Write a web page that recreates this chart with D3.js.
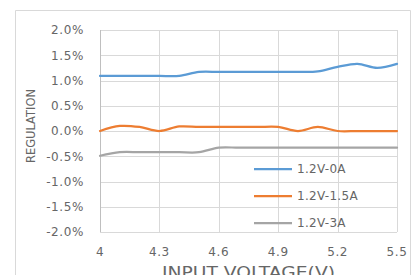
<!DOCTYPE html>
<html>
<head>
<meta charset="utf-8">
<script src="https://cdn.jsdelivr.net/npm/d3@7"></script>
<style>
html,body{margin:0;padding:0;background:#fff;overflow:hidden;}
svg{display:block;}
text{font-family:"DejaVu Sans",sans-serif;fill:#666;}
</style>
</head>
<body>
<svg id="chart" width="411" height="275"></svg>
<script>
// ---- data ----
const voltages = [4.0,4.1,4.2,4.3,4.4,4.5,4.6,4.7,4.8,4.9,5.0,5.1,5.2,5.3,5.4,5.5];
const series0A  = [1.09,1.09,1.09,1.09,1.09,1.17,1.17,1.17,1.17,1.17,1.17,1.18,1.27,1.33,1.25,1.33];
const series15A = [0.00,0.10,0.08,0.00,0.09,0.08,0.08,0.08,0.08,0.08,0.00,0.08,0.00,0.00,0.00,0.00];
const series3A  = [-0.49,-0.42,-0.42,-0.42,-0.42,-0.42,-0.33,-0.33,-0.33,-0.33,-0.33,-0.33,-0.33,-0.33,-0.33,-0.33];
const seriesNames = ["1.2V-0A","1.2V-1.5A","1.2V-3A"];
const seriesColors = ["#5B9BD5","#ED7D31","#A5A5A5"];
const xTicks = [4,4.3,4.6,4.9,5.2,5.5];
const xTickLabels = ["4","4.3","4.6","4.9","5.2","5.5"];
const yTicks = [0.02,0.015,0.01,0.005,0,-0.005,-0.01,-0.015,-0.02];
const xTitle = "INPUT VOLTAGE(V)";
const yTitle = "REGULATION";

const svg = d3.select("#chart");
const L = 100, R = 397, T = 30, B = 232;
const x = d3.scaleLinear().domain([4,5.5]).range([L,R]);
const y = d3.scaleLinear().domain([-0.02,0.02]).range([B,T]);

// outer frame
svg.append("path").attr("d","M15.5,275 V10.5 H410.5 V275")
  .attr("fill","none").attr("stroke","#d9d9d9").attr("stroke-width",1);

// gridlines
const g = svg.append("g");
g.selectAll("line.h").data(yTicks).enter().append("line")
  .attr("x1",L).attr("x2",R)
  .attr("y1",d=>Math.round(y(d))+0.5).attr("y2",d=>Math.round(y(d))+0.5)
  .attr("stroke","#d9d9d9").attr("stroke-width",1);
g.selectAll("line.v").data(xTicks).enter().append("line")
  .attr("x1",d=>Math.round(x(d))+0.5).attr("x2",d=>Math.round(x(d))+0.5)
  .attr("y1",T).attr("y2",B)
  .attr("stroke",(d,i)=>i===0?"#bfbfbf":"#d9d9d9").attr("stroke-width",1);

// y axis labels
const fmt = d3.format(".1%");
svg.append("g").selectAll("text").data(yTicks).enter().append("text")
  .attr("x",84).attr("y",d=>y(d)+4.3)
  .attr("text-anchor","end")
  .style("font-size","12px").style("letter-spacing","0.6px")
  .text(d=>fmt(d).replace("−","-"));

// x axis labels
svg.append("g").selectAll("text").data(xTicks).enter().append("text")
  .attr("x",d=>x(d)).attr("y",256)
  .attr("text-anchor","middle")
  .style("font-size","12px").style("letter-spacing","0.6px")
  .text((d,i)=>xTickLabels[i]);

// axis titles
svg.append("text").attr("x",248.5).attr("y",278)
  .attr("text-anchor","middle").style("font-size","15px")
  .attr("textLength",173).attr("lengthAdjust","spacingAndGlyphs")
  .text(xTitle);
svg.append("text").attr("transform","translate(35,126) rotate(-90)")
  .attr("text-anchor","middle").style("font-size","12px")
  .attr("textLength",74).attr("lengthAdjust","spacingAndGlyphs")
  .text(yTitle);

// lines
const allSeries = [series0A, series15A, series3A];
const line = d3.line().x((d,i)=>x(voltages[i])).y(d=>y(d/100)).curve(d3.curveCatmullRom);
svg.append("g").selectAll("path").data(allSeries).enter().append("path")
  .attr("d",d=>line(d))
  .attr("fill","none")
  .attr("stroke",(d,i)=>seriesColors[i])
  .attr("stroke-width",2.25)
  .attr("stroke-linecap","round");

// legend
const leg = svg.append("g");
const legY = [169,196,223];
seriesNames.forEach((n,i)=>{
  leg.append("line").attr("x1",254).attr("x2",292).attr("y1",legY[i]).attr("y2",legY[i])
    .attr("stroke",seriesColors[i]).attr("stroke-width",2.25);
  leg.append("text").attr("x",297).attr("y",legY[i]+4.3)
    .style("font-size","12px").style("letter-spacing","0.3px").text(n);
});
</script>
</body>
</html>
